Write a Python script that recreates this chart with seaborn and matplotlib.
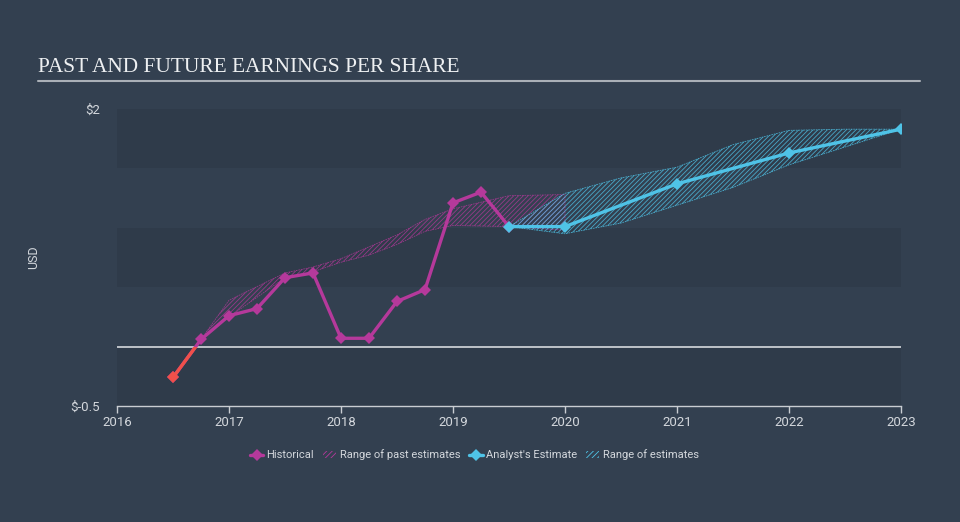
import matplotlib
matplotlib.use("Agg")
import matplotlib.pyplot as plt
import seaborn as sns
import pandas as pd
from matplotlib.lines import Line2D
from matplotlib.patches import Patch, Rectangle

# data
hist_x = [2016.5, 2016.75, 2017.0, 2017.25, 2017.5, 2017.75, 2018.0, 2018.25, 2018.5, 2018.75, 2019.0, 2019.25, 2019.5]
hist_y = [-0.26, 0.06, 0.26, 0.32, 0.58, 0.62, 0.07, 0.07, 0.38, 0.48, 1.21, 1.30, 1.01]

past_x = [2016.75, 2017.0, 2017.5, 2017.75, 2018.0, 2018.25, 2018.5, 2018.75, 2019.0, 2019.5, 2020.0]
past_lo = [0.06, 0.25, 0.58, 0.63, 0.71, 0.77, 0.86, 0.97, 1.02, 1.01, 0.98]
past_hi = [0.06, 0.39, 0.62, 0.67, 0.74, 0.84, 0.94, 1.07, 1.16, 1.27, 1.28]

est_x = [2019.5, 2020.0, 2021.0, 2022.0, 2023.0]
est_y = [1.01, 1.01, 1.37, 1.63, 1.83]

rng_x = [2019.5, 2020.0, 2020.5, 2021.0, 2021.5, 2022.0, 2022.5, 2023.0]
rng_lo = [1.01, 0.95, 1.04, 1.19, 1.34, 1.53, 1.68, 1.83]
rng_hi = [1.01, 1.29, 1.42, 1.51, 1.70, 1.82, 1.83, 1.83]

years = [2016, 2017, 2018, 2019, 2020, 2021, 2022, 2023]

BG = "#334050"
BAND = "#2f3b4a"
MAG = "#b5399b"
CYAN = "#4fc3e7"
RED = "#f0504a"
TXT = "#d3d7dc"

sns.set_style("dark", {"axes.facecolor": BG, "figure.facecolor": BG})
plt.rcParams["font.family"] = ["Roboto", "DejaVu Sans"]
plt.rcParams["hatch.linewidth"] = 0.6

fig = plt.figure(figsize=(9.6, 5.22), dpi=100)
ax = fig.add_axes([117 / 960, 1 - 406 / 522, 784 / 960, 297 / 522])
ax.set_facecolor(BG)

# alternating horizontal bands
for lo, hi in [(1.5, 2.0), (0.5, 1.0), (-0.5, 0.0)]:
    ax.axhspan(lo, hi, color=BAND, zorder=0, lw=0)
ax.axhline(0, color="#c9cdd2", lw=1.3, zorder=1)

# ranges
ax.fill_between(past_x, past_lo, past_hi, facecolor="none", edgecolor=MAG, hatch="///////",
                lw=0.6, ls=(0, (2, 1)), alpha=0.75, zorder=2)
ax.fill_between(rng_x, rng_lo, rng_hi, facecolor="none", edgecolor=CYAN, hatch="///////",
                lw=0.6, ls=(0, (2, 1)), alpha=0.8, zorder=2)

hist = pd.DataFrame({"x": hist_x, "y": hist_y})
est = pd.DataFrame({"x": est_x, "y": est_y})

sns.lineplot(data=hist, x="x", y="y", ax=ax, color=MAG, lw=2.4, marker="D", markersize=6,
             markeredgewidth=0, sort=False, estimator=None, zorder=4)
# negative part in red
neg = sns.lineplot(data=hist.iloc[:2], x="x", y="y", ax=ax, color=RED, lw=2.4,
                   sort=False, estimator=None, zorder=5)
clip = Rectangle((2016, -0.5), 7, 0.5, transform=ax.transData)
neg.lines[-1].set_clip_path(clip)
ax.plot(hist_x[0], hist_y[0], marker="D", ms=6, color=RED, mew=0, zorder=6)

sns.lineplot(data=est, x="x", y="y", ax=ax, color=CYAN, lw=2.4, marker="D", markersize=6,
             markeredgewidth=0, sort=False, estimator=None, zorder=4)

ax.set_xlim(2016, 2023)
ax.set_ylim(-0.5, 2)
ax.set_xticks(years)
ax.set_xticklabels([str(y) for y in years], color=TXT, fontsize=9.5)
ax.set_yticks([-0.5, 2])
ax.set_yticklabels(["$-0.5", "$2"], color=TXT, fontsize=9.5)
ax.tick_params(axis="y", length=0, pad=12)
ax.tick_params(axis="x", length=5, width=1, color="#c9cdd2", direction="out", pad=2, bottom=True)
ax.set_xlabel("")
ax.set_ylabel("USD", color=TXT, fontsize=9, labelpad=22)
ax.grid(False)
for s in ["top", "right", "left"]:
    ax.spines[s].set_visible(False)
ax.spines["bottom"].set_color("#c9cdd2")
ax.spines["bottom"].set_linewidth(1)

# title and rule
fig.text(38 / 960, 1 - 67 / 522, "PAST AND FUTURE EARNINGS PER SHARE", family="Liberation Serif",
         fontsize=15.4, color="#eef0f2", va="center", ha="left")
fig.add_artist(Line2D([38 / 960, 920 / 960], [1 - 81 / 522, 1 - 81 / 522], color="#aab0b7", lw=1.5))

handles = [
    Line2D([], [], color=MAG, lw=2.4, marker="D", ms=6, mew=0),
    Patch(facecolor="none", edgecolor=MAG, hatch="//////", lw=0),
    Line2D([], [], color=CYAN, lw=2.4, marker="D", ms=6, mew=0),
    Patch(facecolor="none", edgecolor=CYAN, hatch="//////", lw=0),
]
labels = ["Historical", "Range of past estimates", "Analyst's Estimate", "Range of estimates"]
leg = fig.legend(handles, labels, loc="center", bbox_to_anchor=(0.494, 1 - 455 / 522), ncol=4,
                 frameon=False, fontsize=8, handlelength=1.2, handletextpad=0.3, columnspacing=0.8)
for t in leg.get_texts():
    t.set_color(TXT)

fig.savefig("out.png", dpi=100, facecolor=BG)
